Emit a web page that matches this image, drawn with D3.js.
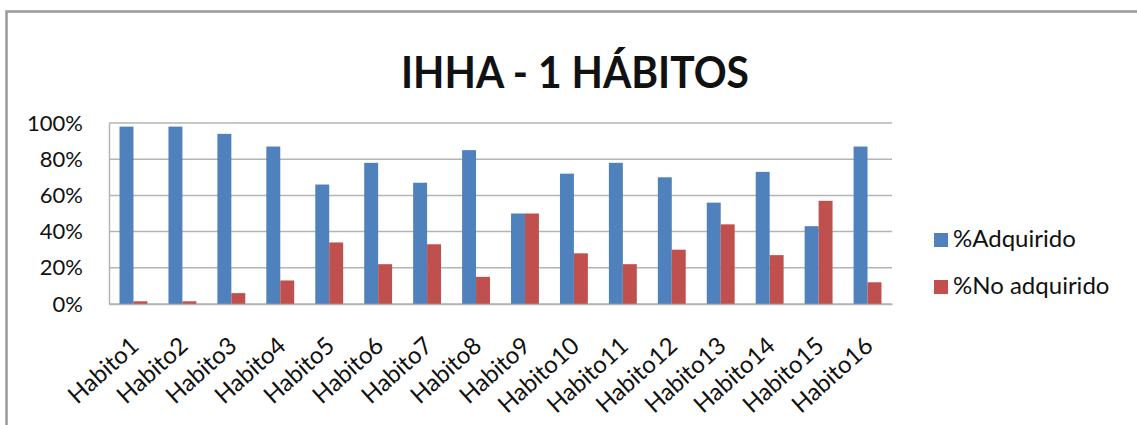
<!DOCTYPE html>
<html>
<head>
<meta charset="utf-8">
<script src="https://cdn.jsdelivr.net/npm/d3@7"></script>
<style>
  html, body { margin: 0; padding: 0; background: #fff; }
  svg { display: block; }
  text { font-family: Lato, "Open Sans", sans-serif; fill: #111; }
</style>
</head>
<body>
<svg id="chart" width="1137" height="425"></svg>
<script>
const title = "IHHA - 1 HÁBITOS";
const categories = ["Habito1","Habito2","Habito3","Habito4","Habito5","Habito6","Habito7","Habito8",
  "Habito9","Habito10","Habito11","Habito12","Habito13","Habito14","Habito15","Habito16"];
const seriesNames = ["%Adquirido", "%No adquirido"];
const adquirido   = [98, 98, 94, 87, 66, 78, 67, 85, 50, 72, 78, 70, 56, 73, 43, 87];
const noAdquirido = [1.5, 1.5, 6, 13, 34, 22, 33, 15, 50, 28, 22, 30, 44, 27, 57, 12];
const yTicks = [0, 20, 40, 60, 80, 100];
const colors = ["#4F81BD", "#C0504D"];

const svg = d3.select("#chart");
const W = 1137, H = 425;
const plot = { left: 109, right: 892, top: 123, bottom: 304 };

// outer frame (extends beyond right/bottom edges as in the reference)
svg.append("path")
  .attr("d", `M6.5,${H + 5} L6.5,11.5 L${W + 5},11.5`)
  .attr("fill", "none").attr("stroke", "#9a9a9a").attr("stroke-width", 2.5);

// title
svg.append("text")
  .attr("x", 575).attr("y", 88)
  .attr("text-anchor", "middle")
  .attr("font-size", 44).attr("font-weight", "bold")
  .attr("textLength", 348).attr("lengthAdjust", "spacingAndGlyphs")
  .text(title);

const y = d3.scaleLinear().domain([0, 100]).range([plot.bottom, plot.top]);
const x0 = d3.scaleBand().domain(categories).range([plot.left, plot.right])
  .paddingInner(0.43).paddingOuter(0.215);
const x1 = d3.scaleBand().domain(seriesNames).range([0, x0.bandwidth()]);

// gridlines
svg.append("g").selectAll("line").data(yTicks).join("line")
  .attr("x1", plot.left).attr("x2", plot.right)
  .attr("y1", d => y(d)).attr("y2", d => y(d))
  .attr("stroke", "#b4b4b4").attr("stroke-width", 1.5);

// y-axis
const yAxis = d3.axisLeft(y).tickValues(yTicks).tickFormat(d => d + "%").tickSize(0).tickPadding(26);
const gy = svg.append("g").attr("transform", `translate(${plot.left},0)`).call(yAxis);
gy.select(".domain").attr("stroke", "#b4b4b4").attr("stroke-width", 1.5);
gy.selectAll("text").attr("font-size", 22).attr("font-family", "Lato, sans-serif").attr("fill", "#222");

// bars
const data = categories.map((c, i) => ({ c, vals: [adquirido[i], noAdquirido[i]] }));
const groups = svg.append("g").selectAll("g").data(data).join("g")
  .attr("transform", d => `translate(${x0(d.c)},0)`);
groups.selectAll("rect").data(d => d.vals.map((v, j) => ({ v, s: seriesNames[j], j })))
  .join("rect")
  .attr("x", d => x1(d.s))
  .attr("width", x1.bandwidth())
  .attr("y", d => y(d.v))
  .attr("height", d => y(0) - y(d.v))
  .attr("fill", d => colors[d.j]);

// x-axis labels
const xAxis = d3.axisBottom(x0).tickSize(0).tickPadding(0);
const gx = svg.append("g").attr("transform", `translate(0,${plot.bottom})`).call(xAxis);
gx.select(".domain").attr("stroke", "#b4b4b4").attr("stroke-width", 1.5);
gx.selectAll("text")
  .attr("font-size", 24).attr("font-family", "Lato, sans-serif").attr("fill", "#111")
  .attr("text-anchor", "end")
  .attr("dy", null).attr("y", 0)
  .attr("transform", "translate(7,44) rotate(-42)");

// legend
const legend = svg.append("g").attr("transform", "translate(934,0)");
const ly = [233, 280];
seriesNames.forEach((s, i) => {
  legend.append("rect").attr("x", 0).attr("y", ly[i]).attr("width", 14).attr("height", 14).attr("fill", colors[i]);
  legend.append("text").attr("x", 19).attr("y", ly[i] + 14)
    .attr("font-size", 24).attr("fill", "#222").text(s);
});
</script>
</body>
</html>
